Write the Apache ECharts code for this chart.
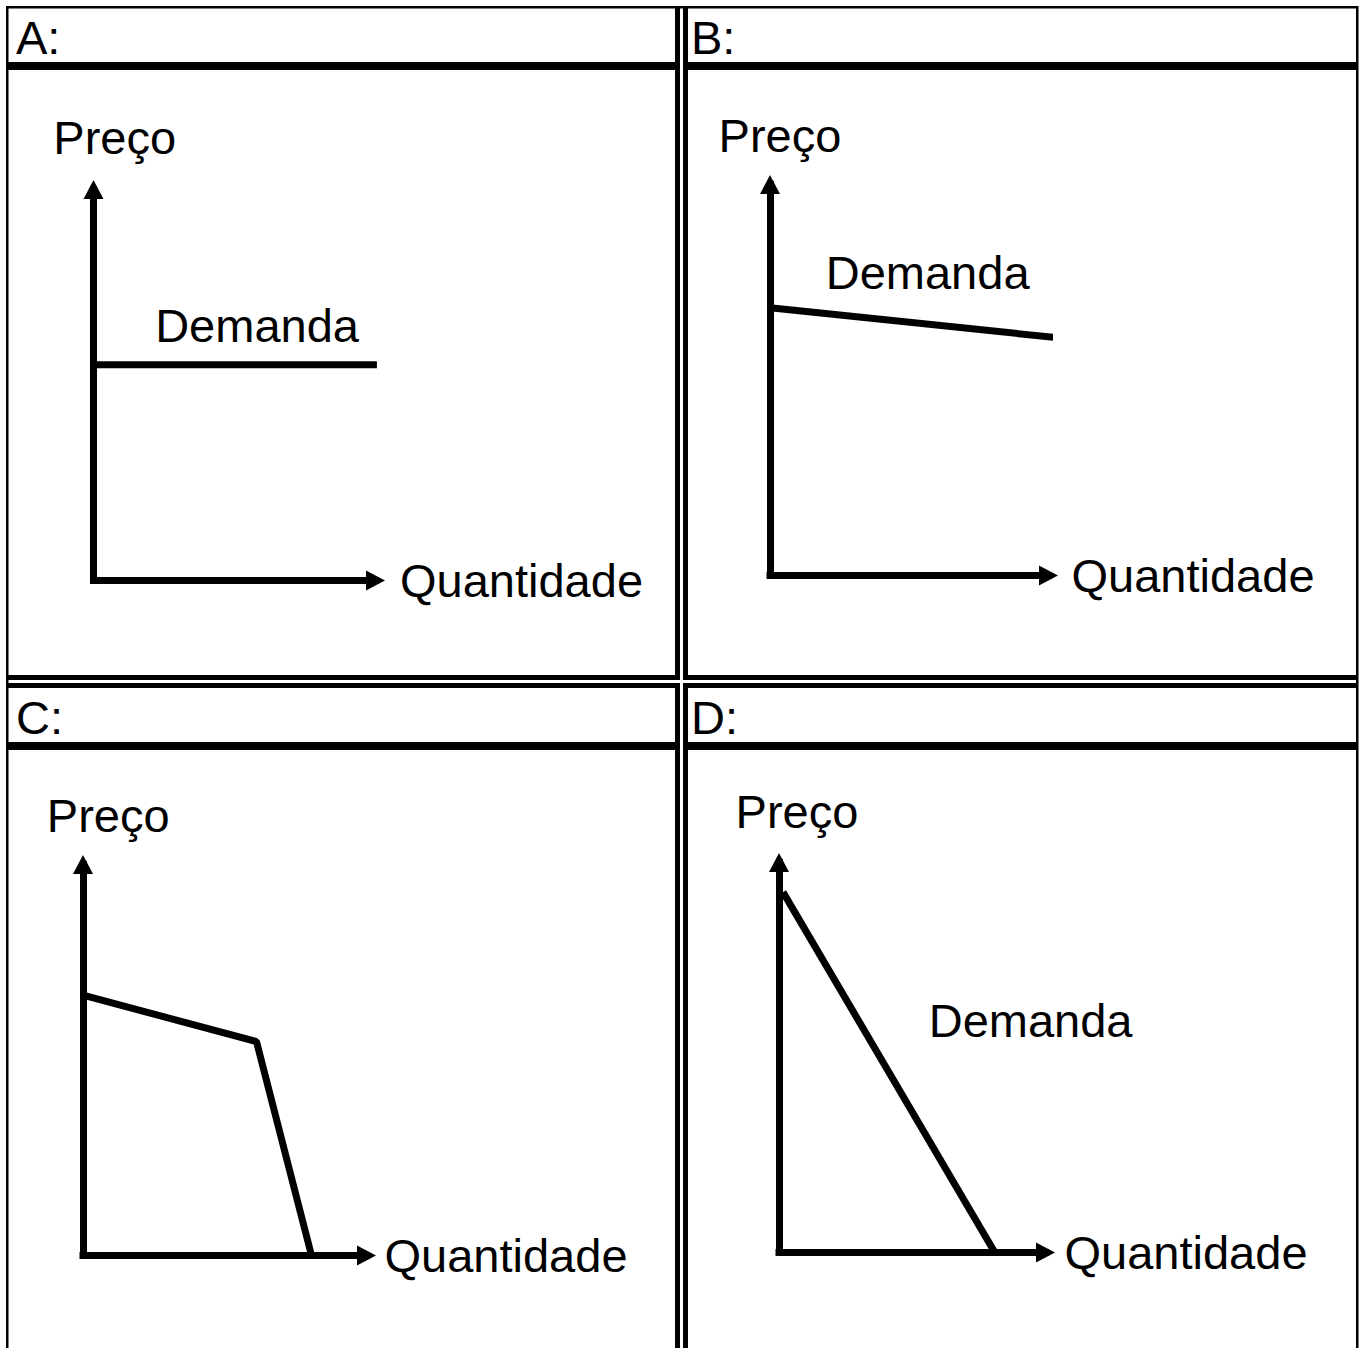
<!DOCTYPE html>
<html><head><meta charset="utf-8">
<script src="https://cdn.jsdelivr.net/npm/echarts@6/dist/echarts.min.js"></script>
<style>html,body{margin:0;padding:0;background:#fff}#c{width:1365px;height:1348px}</style>
</head><body><div id="c"></div>
<script>
// ---- data ----
const panelTitles = ['A:', 'B:', 'C:', 'D:'];
const priceAxisName = 'Preço';
const quantityAxisName = 'Quantidade';
const demandName = 'Demanda';
// demand curves, [quantity, price] in axis units (0-100 = full axis length)
const demandA = [[0, 55.2], [100.5, 55.2]];
const demandB = [[0, 68.5], [104.7, 60.7]];
const demandC = [[0, 66.6], [61.2, 54.7], [80.6, 0]];
const demandD = [[1.5, 92.4], [81, 0]];
const demandSeries = [demandA, demandB, demandC, demandD];

// ---- layout / style ----
const FONT = 'Liberation Sans, Arial, Helvetica, sans-serif';
const FS = 47;
const LW = 7;
const grids = [
  {left: 93.5, top: 189.5, width: 282, height: 391},
  {left: 770, top: 184.5, width: 278.5, height: 391},
  {left: 83, top: 864.5, width: 283.5, height: 391},
  {left: 779, top: 862.5, width: 266.5, height: 390}
];
const yNameGap = [51.8, 49.1, 48.8, 51.1];
const yNamePad = [42.4, 20.0, 50.5, 36.0];
const xNameGap = [24.5, 23.0, 18.0, 19.0];
const labelAnchor = [[58.0, 65.2], [56.6, 77.6], [101.7, 65.0], [94.4, 59.4]];
const titlePos = [[11, 9], [686, 9], [11, 689], [686, 689]];

const axisLine = {
  show: true,
  symbol: ['none', 'triangle'],
  symbolSize: [20, 19],
  lineStyle: {color: '#000', width: LW, cap: 'square'}
};
const baseAxis = {
  type: 'value', min: 0, max: 100,
  axisTick: {show: false}, axisLabel: {show: false}, splitLine: {show: false},
  axisLine: axisLine
};
const textBase = {color: '#000', fontFamily: FONT, fontSize: FS, fontWeight: 'normal', lineHeight: FS};

const option = {
  backgroundColor: '#fff',
  animation: false,
  title: panelTitles.map((t, i) => ({
    text: t, left: titlePos[i][0], top: titlePos[i][1],
    textStyle: Object.assign({}, textBase)
  })),
  grid: grids.map(g => Object.assign({outerBoundsMode: 'none', containLabel: false}, g)),
  xAxis: grids.map((g, i) => Object.assign({}, baseAxis, {
    gridIndex: i,
    name: quantityAxisName, nameLocation: 'end', nameGap: xNameGap[i],
    nameTextStyle: Object.assign({align: 'left', verticalAlign: 'middle'}, textBase)
  })),
  yAxis: grids.map((g, i) => Object.assign({}, baseAxis, {
    gridIndex: i,
    name: priceAxisName, nameLocation: 'end', nameGap: yNameGap[i],
    nameTextStyle: Object.assign({align: 'center', verticalAlign: 'middle', padding: [0, 0, 0, yNamePad[i]]}, textBase)
  })),
  series: demandSeries.map((d, i) => ({
    type: 'line', name: demandName, xAxisIndex: i, yAxisIndex: i,
    data: d, symbol: 'none', clip: false, silent: true,
    lineStyle: {color: '#000', width: LW, cap: 'butt', join: 'bevel'},
    markPoint: {
      symbol: 'circle', symbolSize: 0, silent: true,
      label: Object.assign({show: true, position: 'inside', formatter: demandName}, textBase),
      data: [{coord: labelAnchor[i]}]
    }
  })),
  graphic: (function () {
    const R = (x, y, w, h) => ({type: 'rect', shape: {x, y, width: w, height: h}, style: {fill: '#000'}, silent: true, z: 100});
    return [
      // outer border
      R(6, 6, 1352, 2.5),
      R(6, 6, 2.5, 1342),
      R(1356, 6, 2.5, 1342),
      // inner double vertical lines
      R(675, 6, 5, 674), R(675, 683, 5, 665),
      R(683, 6, 5, 674), R(683, 683, 5, 665),
      // inner double horizontal lines
      R(6, 675, 674, 5), R(683, 675, 675, 5),
      R(6, 683, 674, 5), R(683, 683, 675, 5),
      // header separators
      R(6, 62, 674, 8), R(683, 62, 675, 8),
      R(6, 742, 674, 8), R(683, 742, 675, 8)
    ];
  })()
};

const chart = echarts.init(document.getElementById('c'), null, {renderer: 'svg'});
chart.setOption(option);
</script>
</body></html>
